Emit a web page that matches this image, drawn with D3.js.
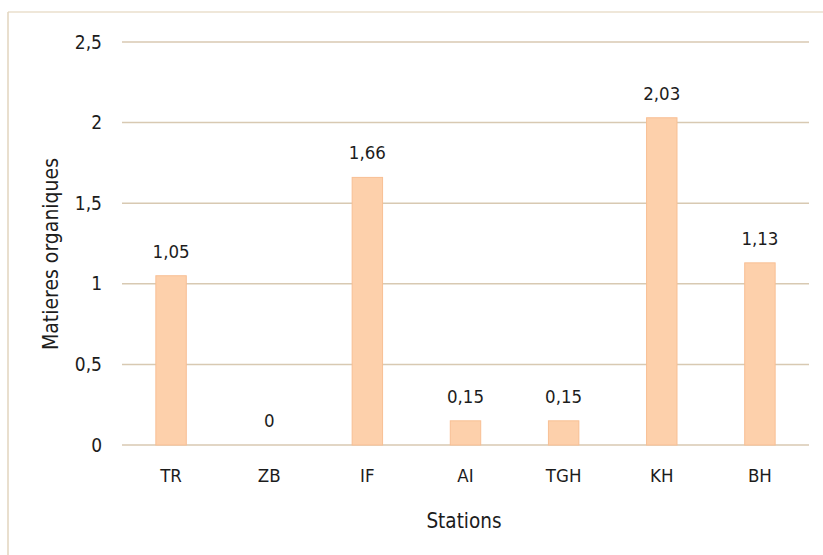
<!DOCTYPE html>
<html>
<head>
  <meta charset="utf-8">
  <script src="https://d3js.org/d3.v7.min.js"></script>
  <style>
    body { margin: 0; background: #fff; }
    text { font-family: "DejaVu Sans Condensed", "DejaVu Sans", sans-serif; font-stretch: condensed; fill: #1c1c1c; }
  </style>
</head>
<body>
  <svg id="chart" width="823" height="555"></svg>
  <script>
    const stations = ["TR", "ZB", "IF", "AI", "TGH", "KH", "BH"];
    const matieres = [1.05, 0, 1.66, 0.15, 0.15, 2.03, 1.13];
    const yTicks = [0, 0.5, 1, 1.5, 2, 2.5];
    const yTickLabels = ["0", "0,5", "1", "1,5", "2", "2,5"];

    const svg = d3.select("#chart");
    const plotLeft = 122, plotRight = 809, plotTop = 42, plotBottom = 445;

    // light frame (only top and left edges visible in the picture)
    svg.append("line").attr("x1", 8).attr("x2", 823).attr("y1", 12).attr("y2", 12)
      .attr("stroke", "#eadfcc").attr("stroke-width", 1.5);
    svg.append("line").attr("x1", 8).attr("x2", 8).attr("y1", 12).attr("y2", 555)
      .attr("stroke", "#e2d4be").attr("stroke-width", 1.5);

    const x = d3.scaleBand().domain(stations).range([plotLeft, plotRight]).paddingInner(0.69).paddingOuter(0.345);
    const y = d3.scaleLinear().domain([0, 2.5]).range([plotBottom, plotTop]);

    // gridlines
    svg.append("g").selectAll("line").data(yTicks).join("line")
      .attr("x1", plotLeft).attr("x2", plotRight)
      .attr("y1", d => y(d)).attr("y2", d => y(d))
      .attr("stroke", "#d8c9b2").attr("stroke-width", 1.5);

    svg.append("g").selectAll("text").data(yTicks).join("text")
      .attr("x", 102).attr("y", d => y(d) + 6.5)
      .attr("text-anchor", "end").attr("font-size", 19)
      .text((d, i) => yTickLabels[i]);

    // bars
    svg.append("g").selectAll("rect").data(matieres).join("rect")
      .attr("x", (d, i) => x(stations[i]))
      .attr("width", x.bandwidth())
      .attr("y", d => y(d))
      .attr("height", d => y(0) - y(d))
      .attr("fill", "#fdd0ab").attr("stroke", "#f8bf94").attr("stroke-width", 1);

    // value labels
    svg.append("g").selectAll("text").data(matieres).join("text")
      .attr("x", (d, i) => x(stations[i]) + x.bandwidth() / 2)
      .attr("y", d => y(d) - 18)
      .attr("text-anchor", "middle").attr("font-size", 18.5)
      .text(d => String(d).replace(".", ","));

    // category labels
    svg.append("g").selectAll("text").data(stations).join("text")
      .attr("x", d => x(d) + x.bandwidth() / 2)
      .attr("y", 482)
      .attr("text-anchor", "middle").attr("font-size", 18.5)
      .text(d => d);

    svg.append("text").attr("x", 464).attr("y", 528)
      .attr("text-anchor", "middle").attr("font-size", 20.5).text("Stations");

    svg.append("text")
      .attr("transform", "translate(58,254) rotate(-90)")
      .attr("text-anchor", "middle").attr("font-size", 21).text("Matieres organiques");
  </script>
</body>
</html>
